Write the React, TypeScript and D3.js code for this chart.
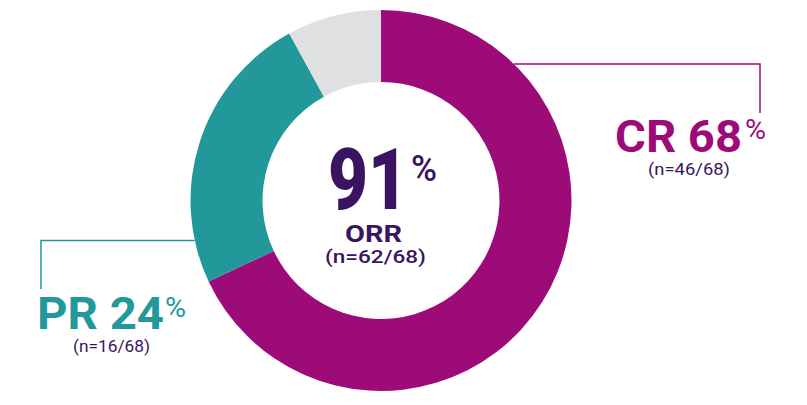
import React from 'react';
import * as d3 from 'd3';

const categories = ['CR', 'PR', 'Other'];
const percents = [68, 24, 8];
const counts = ['(n=46/68)', '(n=16/68)', ''];
const colors = ['#9C0B77', '#22989A', '#DFE0E2'];
const orrValue = '91';
const orrCount = '(n=62/68)';

const W = 807;
const H = 405;
const FONT = 'Roboto, "Noto Sans", sans-serif';
const PURPLE = '#3A1460';

export default function App() {
  const cx = 381;
  const cy = 200.5;
  const outerR = 190.5;
  const innerR = 118.5;

  const pie = d3.pie<number>().sort(null).value((d) => d);
  const arcs = pie(percents);
  const arc = d3.arc<d3.PieArcDatum<number>>().innerRadius(innerR).outerRadius(outerR);

  // leader lines: horizontal run from ring edge, then a drop to the label
  const crY = 64;
  const crX0 = cx + Math.sqrt(outerR * outerR - (cy - crY) ** 2);
  const prY = 240.5;
  const prX0 = cx - Math.sqrt(outerR * outerR - (prY - cy) ** 2);

  return (
    <svg width={W} height={H} style={{ position: 'absolute', left: 0, top: 0 }} fontFamily={FONT}>
      <g transform={`translate(${cx},${cy})`}>
        {arcs.map((a, i) => (
          <path key={categories[i]} d={arc(a) ?? ''} fill={colors[i]} />
        ))}
      </g>

      <path d={`M${crX0},${crY}H760V113`} fill="none" stroke={colors[0]} strokeWidth={1.5} />
      <path d={`M${prX0},${prY}H41V289`} fill="none" stroke={colors[1]} strokeWidth={1.5} />

      {/* center */}
      <text x={328} y={209} fontSize={86} fontWeight={900} fill={PURPLE} textLength={80} lengthAdjust="spacingAndGlyphs">
        {orrValue}
      </text>
      <text x={411} y={181} fontSize={36} fontWeight={500} fill={PURPLE} textLength={26} lengthAdjust="spacingAndGlyphs">%</text>
      <text x={345} y={242} fontSize={24} fontWeight={700} fill={PURPLE} textLength={57} lengthAdjust="spacingAndGlyphs">ORR</text>
      <text x={325} y={263} fontSize={19} fontWeight={500} fill={PURPLE} textLength={101} lengthAdjust="spacingAndGlyphs">{orrCount}</text>

      {/* CR */}
      <text x={615} y={152} fontSize={44} fontWeight={700} fill={colors[0]} textLength={127} lengthAdjust="spacingAndGlyphs">
        {`${categories[0]} ${percents[0]}`}
      </text>
      <text x={745} y={139} fontSize={28} fontWeight={400} fill={colors[0]} textLength={21} lengthAdjust="spacingAndGlyphs">%</text>
      <text x={648} y={175} fontSize={17} fontWeight={400} fill={PURPLE} textLength={82} lengthAdjust="spacingAndGlyphs">{counts[0]}</text>

      {/* PR */}
      <text x={37} y={329} fontSize={44} fontWeight={700} fill={colors[1]} textLength={127} lengthAdjust="spacingAndGlyphs">
        {`${categories[1]} ${percents[1]}`}
      </text>
      <text x={165} y={317} fontSize={28} fontWeight={400} fill={colors[1]} textLength={21} lengthAdjust="spacingAndGlyphs">%</text>
      <text x={73} y={352} fontSize={17} fontWeight={400} fill={PURPLE} textLength={77} lengthAdjust="spacingAndGlyphs">{counts[1]}</text>
    </svg>
  );
}
